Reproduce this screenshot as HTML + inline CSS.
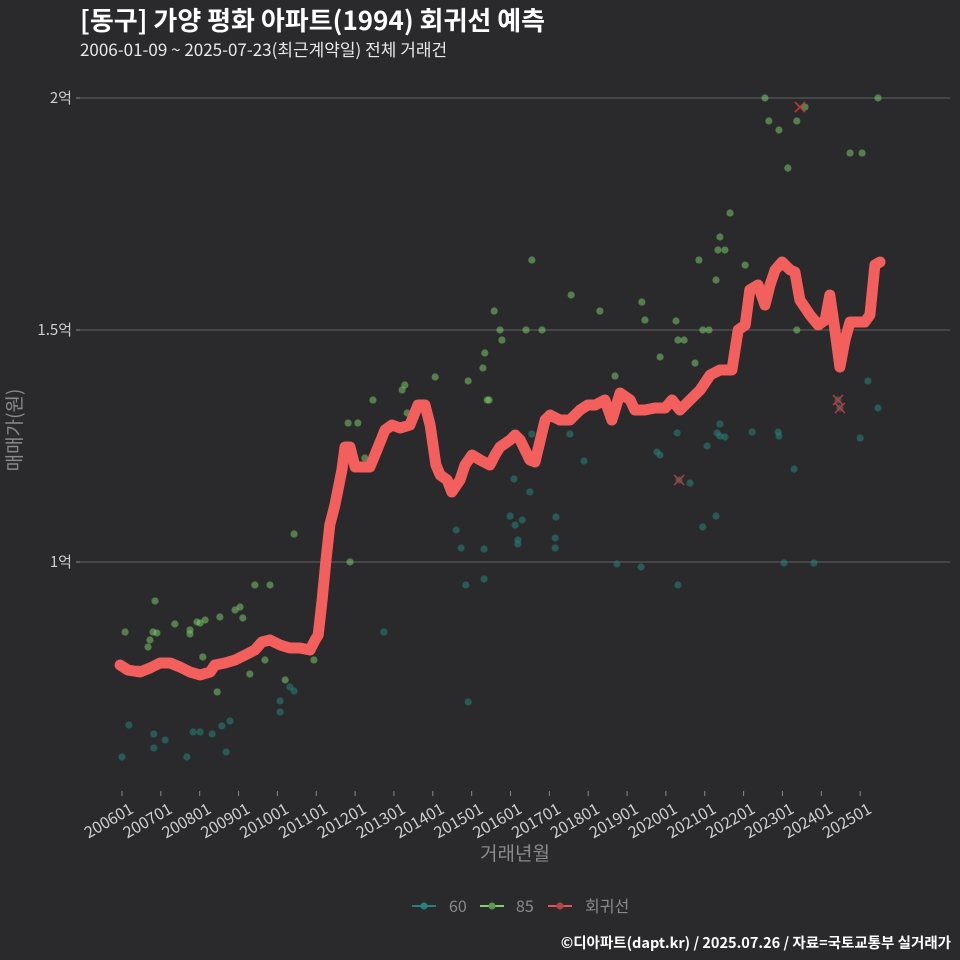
<!DOCTYPE html>
<html><head><meta charset="utf-8"><style>
html,body{margin:0;padding:0;background:#2a2a2c;}
svg{display:block;font-family:"Noto Sans CJK KR","Liberation Sans",sans-serif;}
</style></head><body>
<svg id="chart" width="960" height="960" xmlns="http://www.w3.org/2000/svg">
<rect width="960" height="960" fill="#2a2a2c"/>
<text x="80" y="30" fill="#ffffff" font-size="26" font-weight="bold">[동구] 가양 평화 아파트(1994) 회귀선 예측</text>
<text x="80" y="56" fill="#e8e8e8" font-size="17">2006-01-09 ~ 2025-07-23(최근계약일) 전체 거래건</text>
<g id="grid"></g>
<g id="pts"></g>
<g id="reg"></g>
<g id="xaxis"></g>
<text x="515" y="860" fill="#8a8a8a" font-size="19" text-anchor="middle">거래년월</text>
<text transform="translate(21,430) rotate(-90)" fill="#8a8a8a" font-size="19" text-anchor="middle">매매가(원)</text>
<g>
<g><line x1="412" y1="906" x2="436" y2="906" stroke="#26827a" stroke-width="2"/><circle cx="424" cy="906" r="3.5" fill="#26827a"/><text x="449" y="912" fill="#8a8a8a" font-size="16">60</text></g>
<g><line x1="480" y1="906" x2="504" y2="906" stroke="#7fd46e" stroke-width="2"/><circle cx="492" cy="906" r="3.5" fill="#5a9a50"/><text x="516" y="912" fill="#8a8a8a" font-size="16">85</text></g>
<g><line x1="548" y1="906" x2="572" y2="906" stroke="#e05555" stroke-width="2"/><circle cx="560" cy="906" r="3.5" fill="#b04545"/><text x="585" y="912" fill="#8a8a8a" font-size="16">회귀선</text></g>
</g>
<text x="951" y="948" fill="#ffffff" font-size="14.5" font-weight="bold" text-anchor="end">©디아파트(dapt.kr) / 2025.07.26 / 자료=국토교통부 실거래가</text>
</svg>
<script>
const yTicks=[10000,15000,20000];
const yTickLabels=["1억","1.5억","2억"];
const xTickYears=[2006,2007,2008,2009,2010,2011,2012,2013,2014,2015,2016,2017,2018,2019,2020,2021,2022,2023,2024,2025];
const xTickLabels=["200601","200701","200801","200901","201001","201101","201201","201301","201401","201501","201601","201701","201801","201901","202001","202101","202201","202301","202401","202501"];
const g85T=[2006.08,2006.72,2006.41,2006.80,2006.67,2006.85,2006.90,2007.36,2007.75,2007.75,2007.93,2008.01,2008.14,2008.52,2008.91,2009.04,2009.11,2009.42,2009.81,2009.68,2008.08,2008.45,2009.29,2010.20,2010.43,2010.94,2011.87,2011.82,2012.07,2012.46,2012.25,2013.21,2013.28,2013.34,2014.06,2014.91,2015.29,2015.34,2015.40,2015.45,2015.58,2015.73,2015.78,2016.40,2016.55,2016.81,2017.56,2018.30,2018.69,2019.38,2019.46,2019.85,2020.26,2020.31,2020.47,2020.75,2020.85,2020.95,2021.11,2021.29,2021.39,2021.34,2021.52,2021.65,2022.04,2022.55,2022.65,2022.91,2023.14,2023.37,2023.58,2024.74,2025.05,2025.46,2023.37];
const g85V=[8491,8319,7694,8491,8168,9160,8470,8664,8535,8448,8707,8685,8750,8815,8966,9030,8793,9504,9504,7888,7953,7199,7586,7457,10603,7888,10000,12995,12995,13491,12241,13707,13814,13211,13987,13901,14181,14504,13491,13491,15409,15000,14784,15000,16508,15000,15754,15409,14008,15603,15215,14418,15194,14784,14784,14288,16508,15000,15000,16077,17004,16724,16724,17521,16400,20000,19504,19310,18491,15000,19805,18814,18814,20000,19504];
const g60T=[2006.00,2006.18,2006.82,2006.82,2007.11,2007.67,2007.83,2008.01,2008.32,2008.57,2008.68,2008.78,2010.07,2010.07,2010.32,2010.43,2012.74,2014.60,2014.73,2014.85,2014.91,2015.32,2015.32,2015.99,2016.09,2016.12,2016.19,2016.19,2016.30,2016.50,2016.55,2017.15,2017.15,2017.17,2017.53,2017.89,2018.74,2019.36,2019.77,2019.85,2020.34,2020.29,2020.31,2020.62,2020.95,2021.06,2021.29,2021.32,2021.39,2021.39,2021.52,2022.22,2022.89,2022.91,2023.04,2023.30,2023.81,2024.43,2024.48,2025.00,2025.20,2025.46];
const g60V=[5798,6487,6293,5992,6164,5798,6336,6336,6293,6466,5906,6574,6767,7004,7306,7220,8491,10690,10302,9504,6983,10280,9634,10991,11789,10797,10474,10388,10905,11509,12758,10517,10302,10970,12758,12177,9957,9892,12371,12306,11767,12780,9504,11702,10754,12500,10991,12780,12974,12715,12694,12802,12802,12715,9978,12004,9978,13491,13319,12672,13901,13319];
const regT=[2005.95,2006.15,2006.46,2006.72,2006.98,2007.24,2007.49,2007.75,2008.01,2008.27,2008.39,2008.65,2008.91,2009.17,2009.42,2009.60,2009.81,2010.07,2010.32,2010.58,2010.84,2010.97,2011.05,2011.15,2011.25,2011.35,2011.48,2011.66,2011.74,2011.87,2012.00,2012.38,2012.51,2012.77,2012.95,2013.16,2013.41,2013.62,2013.80,2013.93,2014.08,2014.19,2014.37,2014.49,2014.70,2014.83,2015.01,2015.22,2015.47,2015.60,2015.73,2015.99,2016.12,2016.25,2016.50,2016.63,2016.89,2017.02,2017.27,2017.53,2017.79,2017.99,2018.18,2018.43,2018.61,2018.82,2019.08,2019.20,2019.46,2019.72,2019.98,2020.16,2020.36,2020.62,2020.88,2021.14,2021.39,2021.70,2021.86,2022.04,2022.16,2022.37,2022.55,2022.68,2022.81,2022.99,2023.20,2023.32,2023.45,2023.71,2023.92,2024.10,2024.22,2024.35,2024.48,2024.61,2024.74,2025.12,2025.25,2025.38,2025.51];
const regV=[7780,7673,7630,7716,7823,7823,7737,7630,7565,7630,7780,7823,7888,7996,8103,8276,8319,8211,8147,8147,8103,8319,8427,9181,10043,10797,11228,11983,12478,12478,12047,12047,12306,12845,12952,12888,12952,13383,13383,12952,12090,11875,11767,11509,11767,12090,12306,12198,12090,12306,12478,12629,12737,12629,12198,12155,13060,13168,13060,13060,13276,13383,13383,13491,13060,13642,13491,13276,13276,13319,13319,13491,13276,13491,13707,14030,14138,14138,14999,15107,15862,15969,15538,15969,16293,16465,16293,16250,15646,15323,15107,15215,15754,14999,14202,14784,15172,15172,15323,16401,16465];
const crossT=[2020.34,2023.45,2024.43,2024.48];
const crossV=[11767,19805,13491,13319];

const NS="http://www.w3.org/2000/svg";
function X(t){return 122+(t-2006)*38.85;}
function Y(v){return 562-(v-10000)*0.0464;}
function mk(tag,attrs,parent){const e=document.createElementNS(NS,tag);for(const k in attrs)e.setAttribute(k,attrs[k]);parent.appendChild(e);return e;}
const grid=document.getElementById('grid');
yTicks.forEach((v,i)=>{
  const l=mk('line',{x1:80,x2:950,y1:Y(v),y2:Y(v),stroke:'#777777','stroke-width':0.8},grid);
  
  
  const tk=mk('line',{x1:76,x2:80,y1:Y(v),y2:Y(v),stroke:'#8a8a8a'},grid);
  
  
  const t=mk('text',{x:72,y:Y(v)+5,fill:'#cfcfcf','font-size':15,'text-anchor':'end'},grid);
  t.textContent=yTickLabels[i];
  
  
});
const xa=document.getElementById('xaxis');
xTickYears.forEach((yr,i)=>{
  const x=X(yr);
  const tk=mk('line',{x1:x,x2:x,y1:791,y2:796,stroke:'#8a8a8a'},xa);
  
  
  const t=mk('text',{transform:`translate(${x+5},${799}) rotate(-30)`,fill:'#cfcfcf','font-size':16,'text-anchor':'end','dominant-baseline':'hanging'},xa);
  t.textContent=xTickLabels[i];
  
  
});
const pts=document.getElementById('pts');
g60T.forEach((t,i)=>{
  const c=mk('circle',{cx:X(t),cy:Y(g60V[i]),r:3.6,fill:'#26827a','fill-opacity':0.55},pts);
  
  
});
g85T.forEach((t,i)=>{
  const c=mk('circle',{cx:X(t),cy:Y(g85V[i]),r:3.6,fill:'#7fd46e','fill-opacity':0.5},pts);
  
  
});
const reg=document.getElementById('reg');
const d=regT.map((t,i)=>(i?'L':'M')+X(t).toFixed(1)+','+Y(regV[i]).toFixed(1)).join(' ');
const p=mk('path',{d:d,fill:'none',stroke:'#f25f5c','stroke-width':11,'stroke-linejoin':'round','stroke-linecap':'round'},reg);


crossT.forEach((t,i)=>{
  const x=X(t),y=Y(crossV[i]);
  const c=mk('path',{d:`M${x-5},${y-5}L${x+5},${y+5}M${x-5},${y+5}L${x+5},${y-5}`,stroke:'#c03a3a','stroke-width':1.5},reg);
  
  
});
</script>
</body></html>
